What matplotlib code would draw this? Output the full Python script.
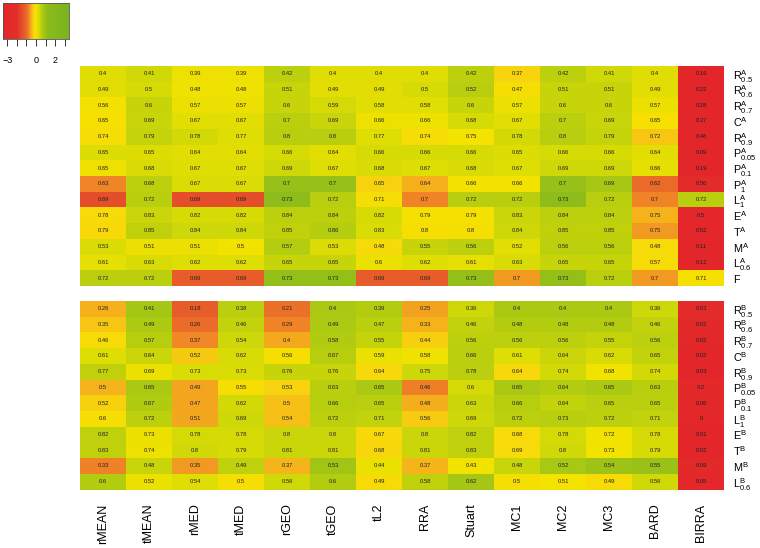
import numpy as np
import matplotlib
matplotlib.use("Agg")
import matplotlib.pyplot as plt
from matplotlib.colors import LinearSegmentedColormap, Normalize

plt.rcParams['font.family'] = ['Liberation Sans', 'DejaVu Sans']
plt.rcParams['mathtext.fontset'] = 'custom'
plt.rcParams['mathtext.rm'] = 'Liberation Sans'
plt.rcParams['mathtext.it'] = 'Liberation Sans:italic'
plt.rcParams['mathtext.bf'] = 'Liberation Sans:bold'

methods = ["rMEAN", "tMEAN", "rMED", "tMED", "rGEO", "tGEO", "tL2", "RRA",
           "Stuart", "MC1", "MC2", "MC3", "BARD", "BIRRA"]

rows_A = [r"$\mathrm{R}^{\mathrm{A}}_{0.5}$", r"$\mathrm{R}^{\mathrm{A}}_{0.6}$",
          r"$\mathrm{R}^{\mathrm{A}}_{0.7}$", r"$\mathrm{C}^{\mathrm{A}}$",
          r"$\mathrm{R}^{\mathrm{A}}_{0.9}$", r"$\mathrm{P}^{\mathrm{A}}_{0.05}$",
          r"$\mathrm{P}^{\mathrm{A}}_{0.1}$", r"$\mathrm{P}^{\mathrm{A}}_{1}$",
          r"$\mathrm{L}^{\mathrm{A}}_{1}$", r"$\mathrm{E}^{\mathrm{A}}$",
          r"$\mathrm{T}^{\mathrm{A}}$", r"$\mathrm{M}^{\mathrm{A}}$",
          r"$\mathrm{L}^{\mathrm{A}}_{0.6}$", r"$\mathrm{F}$"]

vals_A = [
    [0.4, 0.41, 0.39, 0.39, 0.42, 0.4, 0.4, 0.4, 0.42, 0.37, 0.42, 0.41, 0.4, 0.16],
    [0.49, 0.5, 0.48, 0.48, 0.51, 0.49, 0.49, 0.5, 0.52, 0.47, 0.51, 0.51, 0.49, 0.22],
    [0.56, 0.6, 0.57, 0.57, 0.6, 0.59, 0.58, 0.58, 0.6, 0.57, 0.6, 0.6, 0.57, 0.28],
    [0.65, 0.69, 0.67, 0.67, 0.7, 0.69, 0.66, 0.66, 0.68, 0.67, 0.7, 0.69, 0.65, 0.37],
    [0.74, 0.79, 0.78, 0.77, 0.8, 0.8, 0.77, 0.74, 0.75, 0.78, 0.8, 0.79, 0.72, 0.46],
    [0.65, 0.65, 0.64, 0.64, 0.66, 0.64, 0.66, 0.66, 0.66, 0.65, 0.66, 0.66, 0.64, 0.09],
    [0.65, 0.68, 0.67, 0.67, 0.69, 0.67, 0.68, 0.67, 0.68, 0.67, 0.69, 0.69, 0.66, 0.19],
    [0.63, 0.68, 0.67, 0.67, 0.7, 0.7, 0.65, 0.64, 0.66, 0.66, 0.7, 0.69, 0.62, 0.56],
    [0.69, 0.72, 0.69, 0.69, 0.73, 0.72, 0.71, 0.7, 0.72, 0.72, 0.73, 0.72, 0.7, 0.72],
    [0.78, 0.83, 0.82, 0.82, 0.84, 0.84, 0.82, 0.79, 0.79, 0.83, 0.84, 0.84, 0.75, 0.5],
    [0.79, 0.85, 0.84, 0.84, 0.85, 0.86, 0.83, 0.8, 0.8, 0.84, 0.85, 0.85, 0.75, 0.52],
    [0.53, 0.51, 0.51, 0.5, 0.57, 0.53, 0.48, 0.55, 0.56, 0.52, 0.56, 0.56, 0.48, 0.11],
    [0.61, 0.63, 0.62, 0.62, 0.65, 0.65, 0.6, 0.62, 0.61, 0.63, 0.65, 0.65, 0.57, 0.12],
    [0.72, 0.72, 0.69, 0.69, 0.73, 0.73, 0.69, 0.69, 0.73, 0.7, 0.73, 0.72, 0.7, 0.71],
]

rows_B = [r"$\mathrm{R}^{\mathrm{B}}_{0.5}$", r"$\mathrm{R}^{\mathrm{B}}_{0.6}$",
          r"$\mathrm{R}^{\mathrm{B}}_{0.7}$", r"$\mathrm{C}^{\mathrm{B}}$",
          r"$\mathrm{R}^{\mathrm{B}}_{0.9}$", r"$\mathrm{P}^{\mathrm{B}}_{0.05}$",
          r"$\mathrm{P}^{\mathrm{B}}_{0.1}$", r"$\mathrm{L}^{\mathrm{B}}_{1}$",
          r"$\mathrm{E}^{\mathrm{B}}$", r"$\mathrm{T}^{\mathrm{B}}$",
          r"$\mathrm{M}^{\mathrm{B}}$", r"$\mathrm{L}^{\mathrm{B}}_{0.6}$"]

vals_B = [
    [0.26, 0.41, 0.18, 0.38, 0.21, 0.4, 0.39, 0.25, 0.36, 0.4, 0.4, 0.4, 0.36, 0.03],
    [0.35, 0.49, 0.26, 0.46, 0.29, 0.49, 0.47, 0.33, 0.46, 0.48, 0.48, 0.48, 0.46, 0.02],
    [0.46, 0.57, 0.37, 0.54, 0.4, 0.58, 0.55, 0.44, 0.56, 0.56, 0.56, 0.55, 0.56, 0.02],
    [0.61, 0.64, 0.52, 0.62, 0.56, 0.67, 0.59, 0.58, 0.66, 0.61, 0.64, 0.62, 0.65, 0.02],
    [0.77, 0.69, 0.73, 0.73, 0.76, 0.76, 0.64, 0.75, 0.78, 0.64, 0.74, 0.68, 0.74, 0.03],
    [0.5, 0.65, 0.49, 0.55, 0.53, 0.63, 0.65, 0.46, 0.6, 0.65, 0.64, 0.65, 0.63, 0.2],
    [0.52, 0.67, 0.47, 0.62, 0.5, 0.66, 0.65, 0.48, 0.63, 0.66, 0.64, 0.65, 0.65, 0.06],
    [0.6, 0.72, 0.51, 0.69, 0.54, 0.72, 0.71, 0.56, 0.69, 0.72, 0.73, 0.72, 0.71, 0.0],
    [0.82, 0.73, 0.78, 0.78, 0.8, 0.8, 0.67, 0.8, 0.82, 0.68, 0.78, 0.72, 0.78, 0.01],
    [0.83, 0.74, 0.8, 0.79, 0.81, 0.81, 0.68, 0.81, 0.83, 0.69, 0.8, 0.73, 0.79, 0.02],
    [0.33, 0.48, 0.35, 0.49, 0.37, 0.53, 0.44, 0.37, 0.43, 0.48, 0.52, 0.54, 0.55, 0.09],
    [0.6, 0.52, 0.54, 0.5, 0.56, 0.6, 0.49, 0.58, 0.62, 0.5, 0.51, 0.49, 0.56, 0.05],
]

key_ticks = [-3, -2, -1, 0, 1, 2, 3]
key_labels = ["\u22123", "", "", "0", "", "2", ""]


def zscore_rows(v):
    a = np.asarray(v, dtype=float)
    m = a.mean(axis=1, keepdims=True)
    s = a.std(axis=1, ddof=1, keepdims=True)
    return (a - m) / s


zA = zscore_rows(vals_A)
zB = zscore_rows(vals_B)
vmax = max(np.abs(zA).max(), np.abs(zB).max())

nodes = [(-3.47, "#e3262a"), (-2.0, "#e4302a"), (-1.45, "#e6502a"), (-1.2, "#e85e2a"),
         (-0.9, "#ed7428"), (-0.7, "#f18e26"), (-0.5, "#f5b01c"), (-0.2, "#f8d80c"),
         (0.0, "#f5e300"), (0.3, "#d9dc06"), (0.55, "#bcd00e"), (0.85, "#a2c516"),
         (1.3, "#8dbc1b"), (3.47, "#7ab41e")]
pos = [(p + 3.47) / 6.94 for p, _ in nodes]
cmap = LinearSegmentedColormap.from_list("rdylgn_r", list(zip(pos, [c for _, c in nodes])), N=512)
norm = Normalize(vmin=-vmax, vmax=vmax)

W, H = 760, 548
fig = plt.figure(figsize=(W / 100, H / 100), dpi=100)


def px_axes(x0, y0, x1, y1):
    return fig.add_axes([x0 / W, 1 - y1 / H, (x1 - x0) / W, (y1 - y0) / H])


def draw_block(ax, z, vals, rlabels, show_cols):
    nr, nc = z.shape
    ax.imshow(z, cmap=cmap, norm=norm, aspect='auto', interpolation='nearest',
              extent=(-0.5, nc - 0.5, nr - 0.5, -0.5))
    for i in range(nr):
        for j in range(nc):
            ax.text(j, i, f"{vals[i][j]:g}", ha='center', va='center', fontsize=4.2,
                    color='#222222')
    ax.set_xlim(-0.5, nc - 0.5)
    ax.set_ylim(nr - 0.5, -0.5)
    for s in ax.spines.values():
        s.set_visible(False)
    ax.yaxis.tick_right()
    ax.set_yticks(range(nr))
    ax.set_yticklabels(rlabels, fontsize=7.8)
    for lab in ax.get_yticklabels():
        lab.set_horizontalalignment('left')
    ax.tick_params(axis='y', length=0, pad=6.5)
    if show_cols:
        ax.set_xticks(range(nc))
        ax.set_xticklabels(methods, rotation=90, fontsize=9)
        ax.tick_params(axis='x', length=0, pad=10)
    else:
        ax.set_xticks([])


axA = px_axes(80, 66, 724, 286)
draw_block(axA, zA, vals_A, rows_A, False)
axB = px_axes(80, 301, 724, 489.5)
draw_block(axB, zB, vals_B, rows_B, True)

axK = px_axes(3, 3, 69, 39)
grad = np.linspace(-vmax, vmax, 400).reshape(1, -1)
axK.imshow(grad, cmap=cmap, norm=norm, aspect='auto', extent=(-vmax, vmax, 0, 1))
axK.set_xlim(-vmax, vmax)
axK.set_yticks([])
axK.set_xticks(key_ticks)
axK.set_xticklabels(key_labels, fontsize=6.5)
axK.tick_params(axis='x', length=5, width=0.7, pad=7, color='#333333')
for s in axK.spines.values():
    s.set_linewidth(0.6)
    s.set_color('#555555')

fig.savefig("out.png", dpi=100)
